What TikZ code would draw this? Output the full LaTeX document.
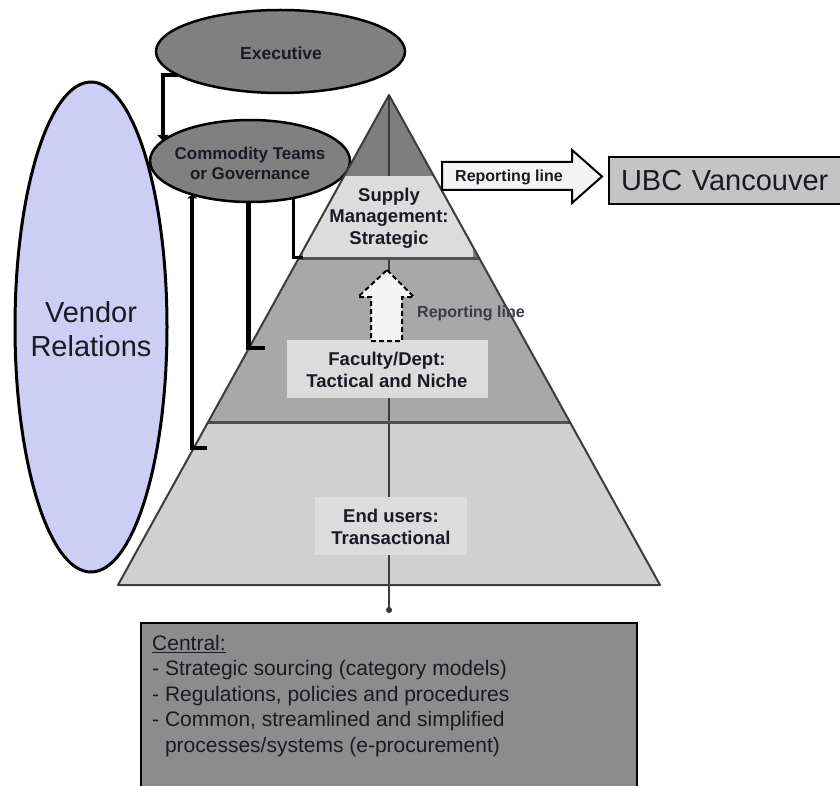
\documentclass[tikz,border=0pt]{standalone}
\usepackage{fontspec}
\setmainfont{Liberation Sans}
\usetikzlibrary{shapes.geometric,arrows.meta}
\definecolor{inkc}{HTML}{1A1A24}
\definecolor{ovalgrey}{HTML}{808080}
\definecolor{vendorfill}{RGB}{206,206,244}
\definecolor{topgrey}{HTML}{7E7E7E}
\definecolor{midgrey}{HTML}{A8A8A8}
\definecolor{lowgrey}{HTML}{D0D0D0}
\definecolor{tierlight}{HTML}{DCDCDC}
\definecolor{centralgrey}{HTML}{8C8C8C}
\definecolor{ubcgrey}{HTML}{C4C4C4}
\definecolor{edgegrey}{HTML}{3C3C3C}
\definecolor{arrowfill}{HTML}{F4F4F4}
\begin{document}
\begin{tikzpicture}[x=1pt,y=-1pt,
  ovalnode/.style={ellipse, draw=black, line width=2.5pt, fill=ovalgrey, inner sep=0pt, outer sep=0pt},
  vendoroval/.style={ellipse, draw=black, line width=3pt, fill=vendorfill, inner sep=0pt, outer sep=0pt},
  smalltxt/.style={text=inkc, align=center, inner sep=0pt, font=\bfseries\fontsize{17pt}{20pt}\selectfont},
  tiertxt/.style={text=inkc, align=center, inner sep=0pt, font=\bfseries\fontsize{18.5pt}{21.5pt}\selectfont},
  tierbox/.style={rectangle, fill=tierlight, inner sep=0pt, outer sep=0pt},
  reptxt/.style={inner sep=0pt, font=\bfseries\fontsize{16pt}{18pt}\selectfont},
  conn/.style={draw=black, line width=4.5pt},
  thinconn/.style={draw=black, line width=3pt},
  divider/.style={draw=edgegrey!90, line width=3pt},
  pyredge/.style={draw=edgegrey, line width=2pt, line join=round},
  midline/.style={draw=edgegrey, line width=1.5pt},
  bigarrow/.style={draw=black, line width=2pt, fill=arrowfill, line join=miter},
  centralbox/.style={rectangle, draw=black, line width=1.5pt, fill=centralgrey, inner sep=0pt, outer sep=0pt},
  ubcbox/.style={rectangle, draw=black, line width=2pt, fill=ubcgrey, outer sep=0pt}
]
\useasboundingbox (0,0) rectangle (840,786);
\clip (0,0) rectangle (840,786);
\fill[white] (0,0) rectangle (840,786);

% ---- left ovals ----
\node[vendoroval, minimum width=152pt, minimum height=490pt] (vendor) at (91,327) {};
\node[text=inkc, align=center, inner sep=0pt, font=\fontsize{29pt}{34pt}\selectfont] (vendortxt) at (91,329) {Vendor\\Relations};

\node[ovalnode, minimum width=249pt, minimum height=83pt] (exec) at (280.5,51.5) {};
\node[smalltxt, font=\bfseries\fontsize{17.5pt}{20pt}\selectfont] (exectxt) at (281,53) {Executive};

\node[ovalnode, minimum width=200pt, minimum height=82pt] (comm) at (250,161) {};
\node[smalltxt] (commtxt) at (250,163) {Commodity Teams\\or Governance};

% ---- pyramid ----
\coordinate (apex) at (389,95);
\coordinate (baseL) at (118,585);
\coordinate (baseR) at (660,585);
\coordinate (tail) at (389,613);

\fill[topgrey] (apex) -- (479.15,258) -- (298.85,258) -- cycle;
\fill[midgrey] (298.85,258) -- (479.15,258) -- (569.85,422) -- (208.15,422) -- cycle;
\fill[lowgrey] (208.15,422) -- (569.85,422) -- (baseR) -- (baseL) -- cycle;

\draw[midline, -{Circle[length=6pt,width=6pt]}] (apex) -- (tail);

\begin{scope}
  \clip (apex) -- (baseR) -- (baseL) -- cycle;
  \node[tierbox, minimum width=170pt, minimum height=82pt] (supplybox) at (388,217) {};
\end{scope}
\node[tierbox, minimum width=201pt, minimum height=58pt] (facbox) at (387,369) {};
\node[tierbox, minimum width=152pt, minimum height=58pt] (endbox) at (391,526) {};

\draw[divider] (298.85,259) -- (479.15,259);
\draw[divider] (208.15,422.5) -- (569.85,422.5);
\draw[pyredge] (apex) -- (baseR) -- (baseL) -- cycle;

\node[tiertxt] (supply) at (389,218) {Supply\\Management:\\Strategic};
\node[tiertxt] (faculty) at (387,370) {Faculty/Dept:\\Tactical and Niche};
\node[tiertxt] (endusers) at (391,527) {End users:\\Transactional};

% ---- dashed reporting arrow between tiers ----
\draw[bigarrow, dashed, dash pattern=on 5pt off 3pt]
  (387,270) -- (414,297) -- (402,297) -- (402,341) -- (371,341) -- (371,297) -- (358,297) -- cycle;
\node[reptxt, text=inkc!85, anchor=west] (rep2) at (417,313) {Reporting line};

% ---- reporting arrow to UBC ----
\draw[bigarrow] (442,162) -- (572,162) -- (572,150) -- (602,176.5) -- (572,203) -- (572,190) -- (442,190) -- cycle;
\node[reptxt, text=inkc] (rep1) at (509,177) {Reporting line};

\node[ubcbox, anchor=west, text width=220pt, inner xsep=12pt, minimum height=47pt, align=left,
      text=inkc, font=\fontsize{29pt}{32pt}\selectfont] (ubc) at (609,180.5) {UBC Vancouver};

% ---- connectors from the ovals ----
\coordinate (footL) at (207,448);
\coordinate (footM) at (265,348);
\coordinate (footR) at (303,258);
\draw[conn, -{Triangle[length=6pt,width=11pt]}] (exec.193) -| (comm.167);
\draw[conn, {Triangle[length=4pt,width=10pt]}-] (comm.210) |- (footL);
\draw[conn] (comm.268) |- (footM);
\draw[thinconn] (comm.320) |- (footR);

% ---- central box ----
\node[centralbox, anchor=north west, minimum width=496pt, minimum height=200pt] (central) at (141,623) {};
\node[anchor=north west, align=left, inner sep=0pt, text=inkc, font=\fontsize{21pt}{25.5pt}\selectfont] (centraltxt) at (152,634.7)
  {\underline{Central:}\\- Strategic sourcing (category models)\\- Regulations, policies and procedures\\- Common, streamlined and simplified\\\phantom{- }processes/systems (e-procurement)};
\end{tikzpicture}
\end{document}
